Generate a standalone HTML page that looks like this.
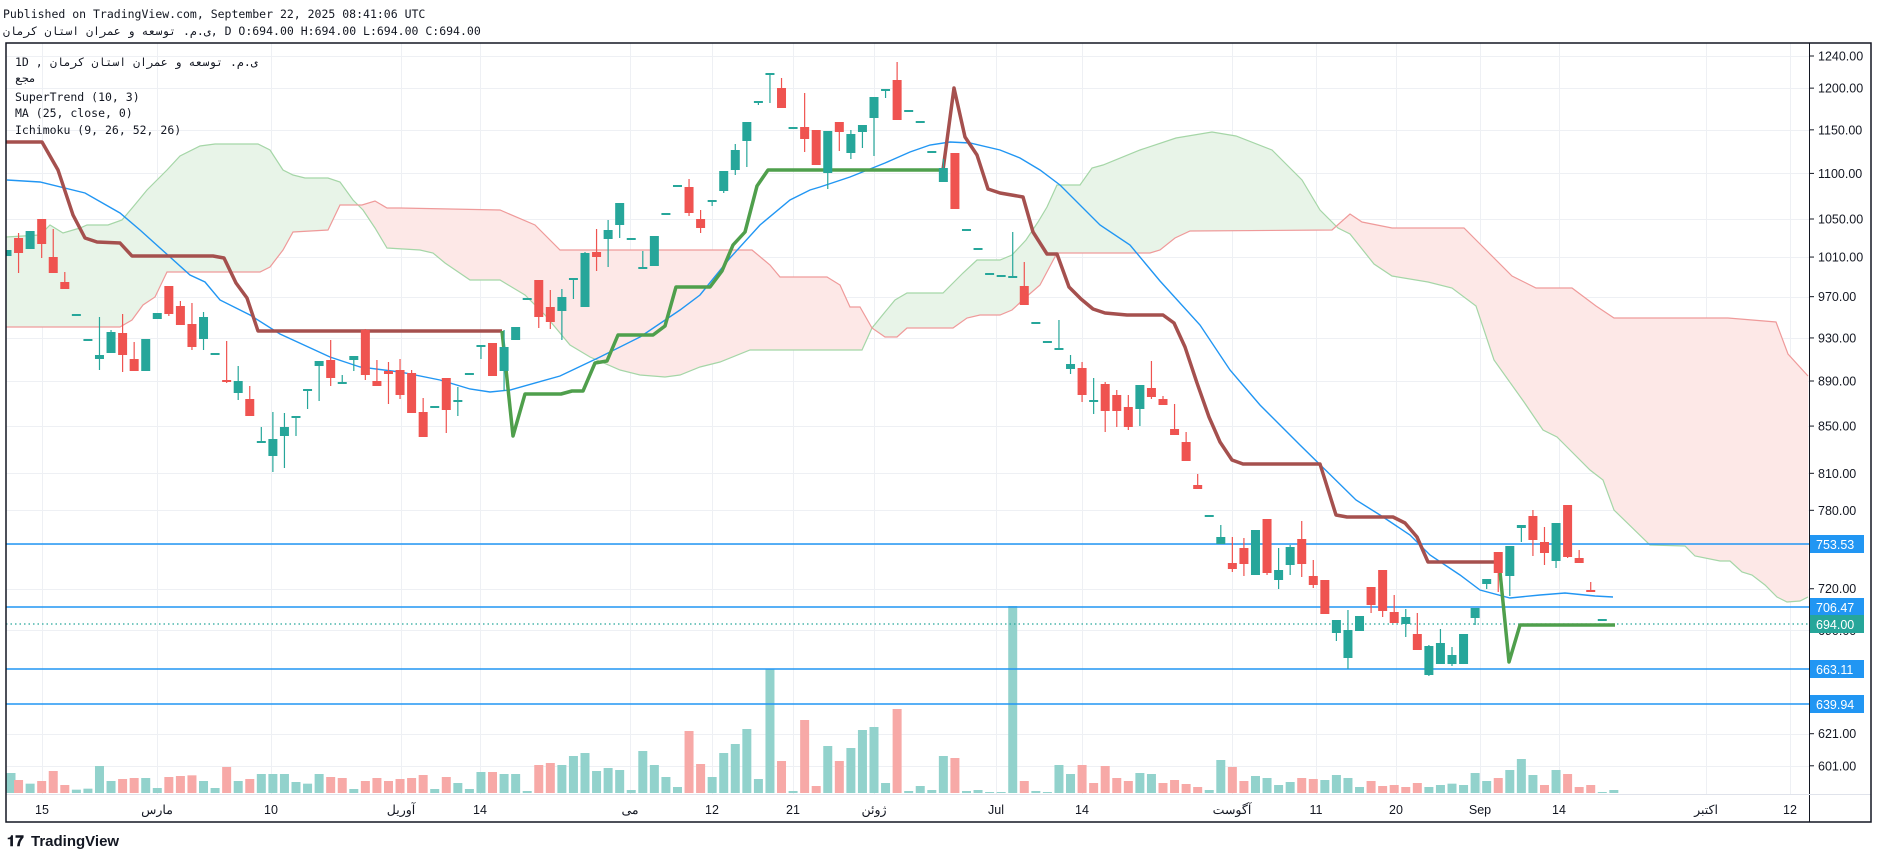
<!DOCTYPE html>
<html><head><meta charset="utf-8">
<style>
html,body{margin:0;padding:0;background:#fff;}
svg{display:block;}
text{font-family:"Liberation Sans","Noto Sans CJK SC",sans-serif;}
text.mono,.mono text{font-family:"DejaVu Sans Mono","Liberation Mono","Noto Sans CJK SC",monospace;}
</style></head>
<body>
<svg id="s" width="1878" height="858" viewBox="0 0 1878 858" xmlns="http://www.w3.org/2000/svg">
<rect x="0" y="0" width="1878" height="858" fill="#fff"/>
<text class="mono" x="3" y="18" font-size="11.5" fill="#131722">Published on TradingView.com, September 22, 2025 08:41:06 UTC</text>
<text class="mono" x="3" y="35" font-size="11.5" fill="#131722">ی.م. توسعه و عمران استان کرمان, D O:694.00 H:694.00 L:694.00 C:694.00</text>
<g id="grid" stroke="#eef0f4" stroke-width="1"></g>
<g id="cloud"></g>
<g id="vol"></g>
<g id="hl"></g>
<g id="lines"></g>
<g id="candles"></g>
<g class="mono" font-size="11.5" fill="#131722">
<text x="15" y="66">1D ,</text>
<text x="50" y="66">ی.م. توسعه و عمران استان کرمان</text>
<text x="15" y="82">مجع</text>
<text x="15" y="101">SuperTrend (10, 3)</text>
<text x="15" y="117">MA (25, close, 0)</text>
<text x="15" y="134">Ichimoku (9, 26, 52, 26)</text>
</g>
<line x1="1809.5" y1="43" x2="1809.5" y2="822" stroke="#131722" stroke-width="1"/>
<line x1="6" y1="794.5" x2="1871" y2="794.5" stroke="#e0e3eb" stroke-width="1"/>
<g id="axis" font-size="12.5" fill="#131722"></g>
<g id="dates" font-size="12.5" fill="#131722" text-anchor="middle">
<text x="42" y="814">15</text><text x="157" y="814">مارس</text><text x="271" y="814">10</text>
<text x="401" y="814">آوریل</text><text x="480" y="814">14</text><text x="630" y="814">می</text>
<text x="712" y="814">12</text><text x="793" y="814">21</text><text x="874" y="814">ژوئن</text>
<text x="996" y="814">Jul</text><text x="1082" y="814">14</text><text x="1232" y="814">آگوست</text>
<text x="1316" y="814">11</text><text x="1396" y="814">20</text><text x="1480" y="814">Sep</text>
<text x="1559" y="814">14</text><text x="1706" y="814">اکتبر</text><text x="1790" y="814">12</text>
</g>
<g id="lbl" font-size="12.5" fill="#fff">
<rect x="1810" y="535" width="54" height="18" fill="#2196f3"/><text x="1816" y="549">753.53</text>
<rect x="1810" y="598" width="54" height="18" fill="#2196f3"/><text x="1816" y="612">706.47</text>
<rect x="1810" y="615" width="54" height="18" fill="#26a69a"/><text x="1816" y="629">694.00</text>
<rect x="1810" y="660" width="54" height="18" fill="#2196f3"/><text x="1816" y="674">663.11</text>
<rect x="1810" y="695" width="54" height="18" fill="#2196f3"/><text x="1816" y="709">639.94</text>
</g>
<rect x="6" y="43" width="1865" height="779" fill="none" stroke="#131722" stroke-width="1.5"/>
<g>
<text x="7" y="846" font-size="15" font-weight="bold" fill="#131722">𝟏𝟕</text>
<text x="31" y="846" font-size="15" font-weight="bold" fill="#131722">TradingView</text>
</g>
</svg>
<script>
const NS="http://www.w3.org/2000/svg";
function el(p,t,a){const e=document.createElementNS(NS,t);for(const k in a)e.setAttribute(k,a[k]);document.getElementById(p).appendChild(e);return e;}
const Y=p=>56+980*Math.log(1240/p);
[1240,1200,1150,1100,1050,1010,970,930,890,850,810,780,753.53,720,690,621,601].forEach(p=>{const y=Math.round(Y(p))+.5;el('grid','line',{x1:6,x2:1809,y1:y,y2:y});});
[42,157,271,401,480,630,712,793,874,996,1082,1232,1316,1396,1480,1559,1706,1790].forEach(x=>el('grid','line',{x1:x+.5,x2:x+.5,y1:43,y2:794}));
[["1240.00",1240],["1200.00",1200],["1150.00",1150],["1100.00",1100],["1050.00",1050],["1010.00",1010],["970.00",970],["930.00",930],["890.00",890],["850.00",850],["810.00",810],["780.00",780],["720.00",720],["690.00",690],["621.00",621],["601.00",601]].forEach(([t,p])=>{const y=Y(p);el('axis','line',{x1:1809,x2:1814,y1:y,y2:y,stroke:'#131722','stroke-width':1});const e=el('axis','text',{x:1818,y:y+4.5});e.textContent=t;});
function poly(pts){return pts.map(p=>p.join(',')).join(' ');}
const gTop1=[[6,237],[40,235],[50,225],[63,233],[80,228],[87,225],[108,225],[122,220],[133,207],[147,190],[167,170],[180,156],[200,146],[215,144],[258,144],[270,150],[283,170],[293,175],[305,178],[328,178],[340,182],[353,200],[363,210],[375,228],[387,248],[420,250],[433,253],[445,263],[470,280],[500,280],[525,295],[545,315],[570,345],[590,357],[620,370],[640,375],[665,377],[680,375],[700,367],[720,362],[750,350],[862,350],[872,328],[885,312],[895,300],[907,293],[943,293],[963,273],[977,260],[1000,260],[1012,255],[1026,240],[1038,222],[1047,207],[1057,185],[1080,185],[1092,168],[1103,165],[1140,150],[1176,138],[1212,132],[1236,136],[1272,150],[1302,180],[1320,210],[1338,228],[1350,234],[1374,264],[1392,276],[1428,282],[1452,288],[1476,306],[1494,360],[1524,402],[1543,430],[1557,437],[1567,447],[1590,470],[1603,480],[1614,510],[1650,545],[1685,546],[1695,556],[1720,561],[1730,561],[1742,572],[1752,575],[1765,585],[1777,597],[1787,602],[1800,601],[1808,597]];
const rB=[[6,327],[120,327],[132,320],[143,305],[155,297],[167,272],[260,272],[270,267],[283,250],[293,232],[328,230],[340,205],[362,205],[375,201],[387,208],[400,208],[500,210],[535,225],[560,250],[752,250],[770,265],[780,277],[827,277],[840,285],[850,307],[860,307],[872,328],[885,337],[897,337],[907,328],[953,328],[967,318],[980,315],[1000,315],[1012,310],[1025,298],[1040,285],[1057,253],[1150,253],[1160,250],[1175,238],[1190,231],[1332,230],[1350,214],[1362,222],[1392,228],[1464,228],[1488,252],[1512,276],[1536,288],[1572,288],[1596,306],[1614,318],[1728,318],[1776,322],[1788,354],[1808,376]];
function interp(a,x){for(let i=0;i<a.length-1;i++){if(x>=a[i][0]&&x<=a[i+1][0]){const t=(x-a[i][0])/(a[i+1][0]-a[i][0]||1);return a[i][1]+t*(a[i+1][1]-a[i][1]);}}return a[a.length-1][1];}
for(let x=6;x<1808;x+=2){const g=interp(gTop1,x),r=interp(rB,x),g2=interp(gTop1,x+2),r2=interp(rB,x+2);
 const col=g<=r?'#e8f4e8':'#fde8e7';el('cloud','polygon',{points:poly([[x,g],[x+2.3,g2],[x+2.3,r2],[x,r]]),fill:col});}
el('cloud','polyline',{points:poly(gTop1),fill:'none',stroke:'#a5d6a7','stroke-width':1.2});
el('cloud','polyline',{points:poly(rB),fill:'none',stroke:'#ef9a9a','stroke-width':1.2});
const V=[[519,'g'],[540,'r'],[551,'g'],[543,'r'],[513,'r'],[555,'r'],[569,'g'],[566,'g'],[498,'g'],[543,'g'],[537,'r'],[534,'r'],[534,'g'],[564,'g'],[531,'r'],[528,'r'],[526,'r'],[543,'g'],[564,'g'],[501,'r'],[543,'g'],[537,'r'],[522,'g'],[522,'g'],[522,'g'],[546,'g'],[551,'g'],[522,'g'],[531,'r'],[534,'r'],[567,'g'],[543,'r'],[534,'r'],[543,'r'],[537,'r'],[534,'r'],[525,'r'],[567,'g'],[531,'r'],[549,'g'],[567,'g'],[516,'g'],[516,'r'],[522,'g'],[522,'g'],[573,'g'],[495,'r'],[489,'r'],[495,'g'],[468,'g'],[459,'g'],[513,'g'],[504,'g'],[510,'g'],[570,'g'],[453,'g'],[495,'g'],[531,'g'],[561,'g'],[393,'r'],[492,'r'],[531,'g'],[459,'g'],[432,'g'],[387,'g'],[537,'g'],[207,'g'],[483,'r'],[573,'g'],[360,'r'],[558,'r'],[438,'g'],[483,'r'],[444,'g'],[390,'g'],[381,'g'],[549,'g'],[327,'r'],[573,'g'],[558,'g'],[570,'g'],[468,'g'],[474,'r'],[573,'g'],[570,'g'],[576,'g'],[576,'g'],[18,'g'],[543,'r'],[573,'g'],[576,'g'],[495,'g'],[522,'g'],[495,'r'],[549,'r'],[498,'r'],[534,'r'],[543,'r'],[519,'g'],[522,'g'],[549,'r'],[540,'r'],[552,'r'],[561,'r'],[570,'g'],[480,'g'],[501,'r'],[543,'r'],[528,'g'],[534,'g'],[555,'g'],[546,'g'],[534,'r'],[537,'r'],[540,'g'],[525,'g'],[534,'g'],[561,'g'],[543,'r'],[558,'r'],[555,'r'],[561,'r'],[549,'r'],[561,'g'],[555,'g'],[551,'g'],[555,'g'],[519,'g'],[543,'g'],[534,'r'],[510,'g'],[477,'g'],[525,'g'],[555,'r'],[510,'g'],[522,'r'],[561,'r'],[555,'r'],[576,'g'],[570,'g']];
V.forEach(([t,c],i)=>{const x=7+11.56*i;const h=(579-t)/3;el('vol','rect',{x:Math.max(6.5,x-4.5),y:793-h,width:9,height:h,fill:c=='g'?'#92d2cc':'#f7a9a7'});});
[544,607,669,704].forEach(y=>el('hl','line',{x1:6,x2:1809,y1:y,y2:y,stroke:'#2196f3','stroke-width':1.6}));
el('hl','line',{x1:6,x2:1809,y1:624,y2:624,stroke:'#26a69a','stroke-width':1.2,'stroke-dasharray':'1.5,3'});
const MA=[[7,180],[40,182],[85,193],[120,213],[140,230],[190,275],[205,282],[220,300],[250,315],[280,334],[330,357],[360,367],[400,372],[440,380],[470,389],[490,392],[510,390],[560,376],[600,357],[640,337],[680,310],[700,295],[730,258],[760,225],[790,200],[810,190],[820,187],[850,177],[885,163],[910,152],[930,145],[950,142],[970,143],[1000,150],[1020,158],[1040,170],[1060,185],[1100,225],[1130,245],[1160,281],[1200,325],[1230,370],[1260,405],[1300,445],[1356,500],[1380,515],[1410,535],[1430,555],[1460,575],[1480,590],[1510,598],[1540,595],[1565,593],[1595,596],[1613,597]];
el('lines','polyline',{points:poly(MA),fill:'none',stroke:'#2196f3','stroke-width':1.4});
const ST1=[[6,142],[42,142],[58,170],[73,215],[85,238],[97,242],[120,243],[132,256],[213,256],[224,258],[236,283],[247,298],[258,331],[502,331]];
const ST2=[[502,331],[513,436],[525,394],[561,394],[572,391],[583,391],[595,363],[607,361],[618,335],[653,335],[665,326],[676,287],[710,287],[722,271],[733,245],[745,232],[757,186],[768,170],[943,170]];
const ST3=[[943,170],[954,88],[965,137],[977,155],[988,189],[1000,193],[1023,197],[1033,232],[1047,254],[1057,254],[1069,287],[1081,299],[1093,309],[1105,313],[1127,315],[1163,315],[1174,323],[1185,347],[1197,383],[1209,417],[1220,442],[1232,460],[1243,464],[1320,464],[1336,515],[1347,517],[1393,517],[1405,523],[1417,537],[1428,562],[1495,562]];
const ST4=[[1495,562],[1500,572],[1509,662],[1520,625],[1615,625]];
el('lines','polyline',{points:poly(ST1),fill:'none',stroke:'#a5504e','stroke-width':3.5,'stroke-linejoin':'round'});
el('lines','polyline',{points:poly(ST2),fill:'none',stroke:'#4f9f4c','stroke-width':3.5,'stroke-linejoin':'round'});
el('lines','polyline',{points:poly(ST3),fill:'none',stroke:'#a5504e','stroke-width':3.5,'stroke-linejoin':'round'});
el('lines','polyline',{points:poly(ST4),fill:'none',stroke:'#4f9f4c','stroke-width':3.5,'stroke-linejoin':'round'});
const C=[[250,256,250,256,'g'],[238,253,233,273,'r'],[231,249,231,249,'g'],[219,244,219,258,'r'],[257,273,229,273,'r'],[282,289,272,289,'r'],[315,315,315,315,'g'],[340,340,340,340,'g'],[355,359,317,370,'g'],[332,353,330,353,'g'],
[333,355,314,372,'r'],[359,371,342,371,'r'],[339,371,339,371,'g'],[313,319,313,319,'g'],[286,314,286,316,'r'],[306,325,301,325,'r'],[324,347,303,350,'r'],[317,339,312,350,'g'],[354,354,354,354,'g'],[380,382,341,383,'r'],
[381,393,366,400,'g'],[399,416,386,416,'r'],[442,442,427,443,'g'],[439,456,412,472,'g'],[427,436,413,468,'g'],[417,417,417,436,'g'],[390,390,390,409,'g'],[361,366,361,401,'g'],[360,378,340,386,'r'],[382,384,375,384,'g'],
[356,360,356,371,'g'],[330,375,329,380,'r'],[381,386,360,386,'r'],[371,374,362,404,'r'],[370,395,359,399,'r'],[373,413,370,413,'r'],[412,437,398,437,'r'],[407,407,407,407,'g'],[378,410,378,433,'r'],[401,401,387,416,'g'],
[374,374,374,374,'g'],[346,346,346,359,'g'],[343,376,343,376,'r'],[347,371,330,391,'g'],[327,340,327,340,'g'],[299,299,299,299,'g'],[280,317,280,328,'r'],[307,322,290,329,'r'],[297,311,289,340,'g'],[279,279,279,299,'g'],
[253,307,252,307,'g'],[252,257,229,271,'r'],[230,239,220,267,'g'],[203,225,203,238,'g'],[239,239,239,239,'g'],[268,268,251,268,'g'],[236,266,236,266,'g'],[214,214,214,214,'g'],[186,186,186,186,'g'],[187,213,179,216,'r'],
[219,228,210,233,'r'],[201,201,201,206,'g'],[171,191,171,193,'g'],[150,170,144,175,'g'],[122,141,122,167,'g'],[102,102,102,105,'g'],[74,74,74,103,'g'],[88,108,78,108,'r'],[128,128,128,128,'g'],[127,139,93,152,'r'],
[130,165,130,165,'r'],[131,173,131,189,'g'],[122,132,122,151,'r'],[134,153,130,159,'g'],[125,132,125,148,'g'],[97,118,97,156,'g'],[90,90,90,98,'g'],[80,120,62,120,'r'],[111,111,111,111,'g'],[122,122,122,122,'g'],
[152,152,152,152,'g'],[168,182,159,182,'g'],[153,209,153,209,'r'],[230,230,230,230,'g'],[249,249,249,249,'g'],[274,274,274,274,'g'],[276,276,276,276,'g'],[277,277,232,277,'g'],[286,305,262,305,'r'],[323,323,323,323,'g'],
[342,342,342,342,'g'],[349,349,320,349,'g'],[364,369,355,374,'g'],[368,395,362,402,'r'],[401,401,378,414,'g'],[384,411,382,432,'r'],[395,411,390,427,'r'],[407,427,395,430,'r'],[385,409,385,426,'g'],[388,397,361,399,'r'],
[399,405,396,405,'r'],[429,435,404,435,'r'],[442,461,432,461,'r'],[485,489,474,489,'r'],[516,516,516,516,'g'],[537,544,525,544,'g'],[563,569,537,572,'r'],[548,564,538,576,'r'],[530,575,530,575,'g'],[519,573,519,575,'r'],
[570,580,548,589,'g'],[547,565,545,575,'g'],[539,564,521,577,'r'],[576,585,560,588,'r'],[580,614,580,614,'r'],[620,633,620,641,'g'],[630,658,610,669,'g'],[616,631,616,631,'g'],[587,605,587,613,'r'],[570,611,570,617,'r'],
[612,623,595,623,'r'],[617,624,609,637,'g'],[634,650,613,650,'r'],[646,675,645,676,'g'],[643,664,629,664,'g'],[655,664,647,666,'g'],[634,664,634,664,'g'],[608,618,608,625,'g'],[579,584,579,589,'g'],[552,573,552,592,'r'],
[546,576,546,596,'g'],[525,528,525,542,'g'],[516,540,510,556,'r'],[542,553,527,565,'r'],[523,561,523,568,'g'],[505,557,505,558,'r'],[558,563,550,563,'r'],[590,592,582,592,'r'],[620,620,620,620,'g']];
C.forEach(([bt,bb,wt,wb,c],i)=>{const x=7+11.56*i;const col=c=='g'?'#26a69a':'#ef5350';
 if(wb>wt)el('candles','line',{x1:x,x2:x,y1:wt,y2:wb,stroke:col,'stroke-width':1.2});
 const h=Math.max(2,bb-bt);const y=bb-bt<2?bt-1:bt;const l=Math.max(6.5,x-4.5);el('candles','rect',{x:l,y:y,width:x+4.5-l,height:h,fill:col});});
</script>
</body></html>
